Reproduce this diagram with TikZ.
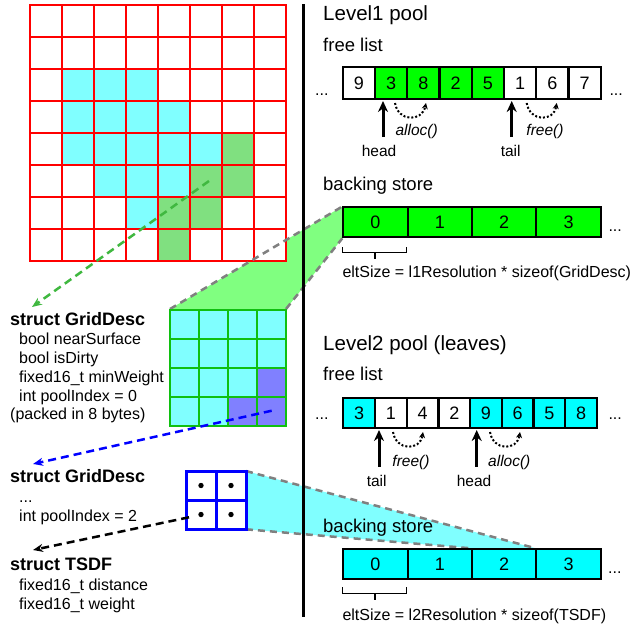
\documentclass[tikz,border=0pt]{standalone}
\usepackage{fontspec}
\setmainfont{Liberation Sans}
\usetikzlibrary{arrows.meta,calc}
\definecolor{lcyan}{HTML}{80FFFF}
\definecolor{lgreen}{HTML}{80E080}
\definecolor{tgreen}{HTML}{80FF80}
\definecolor{purp}{HTML}{8080FF}
\definecolor{ggreen}{HTML}{10C010}
\definecolor{arrgreen}{HTML}{40B840}
\definecolor{trapgray}{HTML}{808080}
\definecolor{pcyan}{HTML}{00FFFF}
\definecolor{pgreen}{HTML}{00FF00}
\begin{document}
\begin{tikzpicture}[x=1pt,y=-1pt,
  heading/.style={anchor=base west, inner sep=0pt, font=\fontsize{20.5}{24}\selectfont},
  subhead/.style={anchor=base west, inner sep=0pt, font=\fontsize{18.5}{22}\selectfont},
  lcell/.style={draw, line width=2.2pt, inner sep=0pt, font=\fontsize{18}{20}\selectfont},
  note/.style={anchor=base, inner sep=0pt, font=\fontsize{15.5}{18}\selectfont},
  fnote/.style={anchor=base, inner sep=0pt, font=\fontsize{15.5}{18}\selectfont\itshape},
  dots/.style={anchor=base west, inner sep=0pt, font=\fontsize{16}{18}\selectfont},
  field/.style={anchor=base west, inner sep=0pt, font=\fontsize{16}{19}\selectfont},
  sname/.style={anchor=base west, inner sep=0pt, font=\fontsize{18}{21}\selectfont\bfseries},
  eltlabel/.style={anchor=base west, inner sep=0pt, font=\fontsize{16}{19}\selectfont},
  bigarrow/.style={line width=3pt, -{Stealth[length=11pt,width=10pt]}},
  dotarrow/.style={line width=2pt, dash pattern=on 2pt off 2pt, -{Stealth[length=6pt,width=6pt]}},
  dasharrow/.style={line width=2.5pt, dash pattern=on 8pt off 5pt, -{Stealth[length=10pt,width=8pt]}},
  trapedge/.style={trapgray, line width=2.5pt, dash pattern=on 7pt off 5pt},
  gridred/.style={red, line width=2.6pt, line cap=rect},
  gridgreen/.style={ggreen, line width=2.6pt, line cap=rect},
  bracket/.style={line width=1.3pt},
]
\useasboundingbox (0,0) rectangle (631,629);

% ---------- trapezoid fills (behind) ----------
\fill[tgreen] (170,309) -- (342.3,206.5) -- (342.3,238.3) -- (286,309) -- cycle;
\fill[lcyan] (246,471) -- (535.7,548.3) -- (471,548.3) -- (246,529.3) -- cycle;

% ---------- big grid ----------
\fill[white] (30,5) rectangle (286,261);
\foreach \c/\r in {1/2,2/2,3/2,1/3,2/3,3/3,4/3,1/4,2/4,3/4,4/4,5/4,2/5,3/5,4/5,3/6}
  \fill[lcyan] ({30+32*\c},{5+32*\r}) rectangle ++(32,32);
\foreach \c/\r in {6/4,5/5,6/5,4/6,5/6,4/7}
  \fill[lgreen] ({30+32*\c},{5+32*\r}) rectangle ++(32,32);
\foreach \i in {0,...,8} {
  \draw[gridred] ({30+32*\i},5) -- ({30+32*\i},261);
  \draw[gridred] (30,{5+32*\i}) -- (286,{5+32*\i});
}

% ---------- trapezoid edges ----------
\coordinate (ga) at (170,309);
\coordinate (gb) at (342.3,206.5);
\coordinate (gc) at (286,309);
\coordinate (gd) at (342.3,238.3);
\draw[trapedge] (ga) -- (gb);
\draw[trapedge] (gc) -- (gd);
\coordinate (ca) at (246,471);
\coordinate (cb) at (535.7,548.3);
\coordinate (cc) at (246,529.3);
\coordinate (cd) at (471,548.3);
\draw[trapedge] (ca) -- (cb);
\draw[trapedge] (cc) -- (cd);

% ---------- small green grid ----------
\fill[lcyan] (170,310) rectangle (286,426);
\foreach \c/\r in {3/2,2/3,3/3}
  \fill[purp] ({170+29*\c},{310+29*\r}) rectangle ++(29,29);
\foreach \i in {0,...,4} {
  \draw[gridgreen] ({170+29*\i},310) -- ({170+29*\i},426);
  \draw[gridgreen] (170,{310+29*\i}) -- (286,{310+29*\i});
}

% ---------- blue 2x2 grid ----------
\fill[white] (186,471) rectangle (246,529);
\draw[blue, line width=3pt] (186,471) rectangle (246,529);
\draw[blue, line width=3pt] (216,471) -- (216,529);
\draw[blue, line width=3pt] (186,500) -- (246,500);
\foreach \x/\y in {201/485.5,231/485.5,201/514.5,231/514.5}
  \fill[black] (\x,\y) circle[radius=2.7pt];

% ---------- divider ----------
\coordinate (vtop) at (303.5,4);
\coordinate (vbot) at (303.5,616.7);
\draw[line width=3pt] (vtop) -- (vbot);

% ---------- Level 1 ----------
\node[heading] (l1title) at (323,20) {Level1 pool};
\node[subhead] (l1free) at (323,51.7) {free list};
\foreach \v/\f [count=\i from 0] in {9/white,3/pgreen,8/pgreen,2/pgreen,5/pgreen,1/white,6/white,7/white}
  \node[lcell, fill=\f, minimum width=32.25pt, minimum height=32pt] (fa-\i) at ({342.7+32.25*(\i+0.5)},83) {\v};
\node[dots] (fa-l) at (315,95) {...};
\node[dots] (fa-r) at (609.3,95) {...};
\coordinate (h1a) at (383,137); \coordinate (h1b) at (383,101);
\coordinate (t1a) at (511.7,137); \coordinate (t1b) at (511.7,101);
\draw[bigarrow] (h1a) -- (h1b);
\draw[bigarrow] (t1a) -- (t1b);
\coordinate (al1a) at (395,103); \coordinate (al1b) at (426,103);
\coordinate (fr1a) at (526.7,103); \coordinate (fr1b) at (556.7,103);
\draw[dotarrow] (al1a) .. controls (398,122) and (422,122) .. (al1b);
\draw[dotarrow] (fr1a) .. controls (529.7,122) and (553.7,122) .. (fr1b);
\node[fnote] (alloc1) at (416.7,135) {alloc()};
\node[fnote] (free1) at (545,135) {free()};
\node[note] (head1) at (379,156.7) {head};
\node[note] (tail1) at (510.7,156.7) {tail};

\node[subhead] (l1back) at (323,190) {backing store};
\foreach \v [count=\i from 0] in {0,1,2,3}
  \node[lcell, fill=pgreen, minimum width=64.35pt, minimum height=30.3pt] (ba-\i) at ({343.3+64.35*(\i+0.5)},222.2) {\v};
\node[dots] (ba-r) at (608.3,231) {...};
\coordinate (br1a) at (342.3,247.3); \coordinate (br1b) at (406.7,247.3);
\draw[bracket] (br1a) -- (342.3,252.7) -- (406.7,252.7) -- (br1b);
\coordinate (bt1a) at (375,252.7); \coordinate (bt1b) at (375,259.3);
\draw[bracket] (bt1a) -- (bt1b);
\node[eltlabel] (elt1) at (342.3,277.3) {eltSize = l1Resolution * sizeof(GridDesc)};

% ---------- Level 2 ----------
\node[heading] (l2title) at (323,350) {Level2 pool (leaves)};
\node[subhead] (l2free) at (323,380.7) {free list};
\foreach \v/\f [count=\i from 0] in {3/pcyan,1/white,4/white,2/white,9/pcyan,6/pcyan,5/pcyan,8/pcyan}
  \node[lcell, fill=\f, minimum width=31.7pt, minimum height=30pt] (fb-\i) at ({343.3+31.7*(\i+0.5)},413.3) {\v};
\node[dots] (fb-l) at (315,419) {...};
\node[dots] (fb-r) at (608.3,419) {...};
\coordinate (t2a) at (379,466.7); \coordinate (t2b) at (379,430);
\coordinate (h2a) at (476.7,466.7); \coordinate (h2b) at (476.7,430);
\draw[bigarrow] (t2a) -- (t2b);
\draw[bigarrow] (h2a) -- (h2b);
\coordinate (fr2a) at (393,432); \coordinate (fr2b) at (423,432);
\coordinate (al2a) at (490,432); \coordinate (al2b) at (520,432);
\draw[dotarrow] (fr2a) .. controls (396,451) and (420,451) .. (fr2b);
\draw[dotarrow] (al2a) .. controls (493,451) and (517,451) .. (al2b);
\node[fnote] (free2) at (411,466) {free()};
\node[fnote] (alloc2) at (509.3,466) {alloc()};
\node[note] (tail2) at (376.7,486.7) {tail};
\node[note] (head2) at (474,486.7) {head};

\node[subhead] (l2back) at (323,532) {backing store};
\foreach \v [count=\i from 0] in {0,1,2,3}
  \node[lcell, fill=pcyan, minimum width=64.35pt, minimum height=29.7pt] (bb-\i) at ({343.3+64.35*(\i+0.5)},564.2) {\v};
\node[dots] (bb-r) at (608,573.3) {...};
\coordinate (br2a) at (342.3,587.3); \coordinate (br2b) at (406.7,587.3);
\draw[bracket] (br2a) -- (342.3,593.3) -- (406.7,593.3) -- (br2b);
\coordinate (bt2a) at (375,593.3); \coordinate (bt2b) at (375,600);
\draw[bracket] (bt2a) -- (bt2b);
\node[eltlabel] (elt2) at (342.3,620) {eltSize = l2Resolution * sizeof(TSDF)};

% ---------- left texts ----------
\node[sname] (s1) at (10,325) {struct GridDesc};
\node[field] (s1a) at (19,344) {bool nearSurface};
\node[field] (s1b) at (19,363.3) {bool isDirty};
\node[field] (s1c) at (19,382.7) {fixed16\_t minWeight};
\node[field] (s1d) at (19,401.7) {int poolIndex = 0};
\node[field] (s1e) at (10,419.5) {(packed in 8 bytes)};

\node[sname] (s2) at (10,482.7) {struct GridDesc};
\node[field] (s2a) at (19,502.7) {...};
\node[field] (s2b) at (19,521.7) {int poolIndex = 2};

\node[sname] (s3) at (10,570.7) {struct TSDF};
\node[field] (s3a) at (19,590.7) {fixed16\_t distance};
\node[field] (s3b) at (19,609.3) {fixed16\_t weight};

% ---------- dashed pointer arrows ----------
\coordinate (pg1) at (209,181); \coordinate (pg2) at (32,307);
\draw[dasharrow, arrgreen] (pg1) -- (pg2);
\coordinate (pb1) at (271.7,410.7); \coordinate (pb2) at (33,464);
\draw[dasharrow, blue] (pb1) -- (pb2);
\coordinate (pk1) at (189,517.3); \coordinate (pk2) at (33,550);
\draw[dasharrow, black] (pk1) -- (pk2);
\end{tikzpicture}
\end{document}
